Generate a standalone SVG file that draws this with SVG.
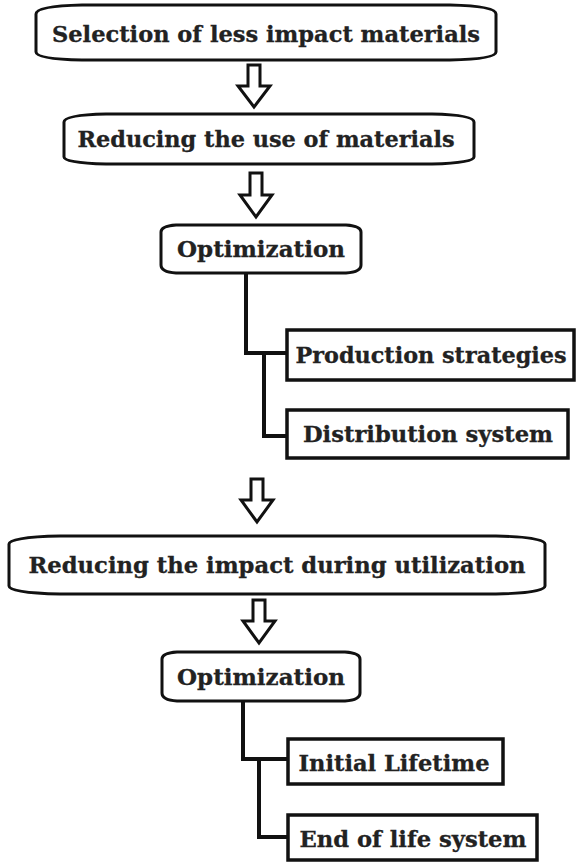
<svg xmlns="http://www.w3.org/2000/svg" width="576" height="864" viewBox="0 0 576 864">
<style>
.box{fill:#fff;stroke:#111;stroke-width:3}
.rect{fill:#fff;stroke:#111;stroke-width:3.5}
.arr{fill:#fff;stroke:#111;stroke-width:3;stroke-linejoin:miter}
.con{fill:none;stroke:#111;stroke-width:4}
text{font-family:"DejaVu Serif","Liberation Serif",serif;font-weight:bold;font-size:22px;fill:#222;stroke:#222;stroke-width:0.3}
</style>
<rect width="576" height="864" fill="#fff"/>
<g id="connectors">
<path class="arr" d="M248,65 H260 V86 H270 L254,107 L238,86 H248 Z"/>
<path class="arr" d="M250,173 H262 V195 H272 L256,217 L240,195 H250 Z"/>
<path class="con" d="M246,273 V353 H287 M264,353 V436 H287"/>
<path class="arr" d="M251,479 H263 V500 H273 L257,522 L241,500 H251 Z"/>
<path class="arr" d="M253,600 H265 V621 H275 L259,643 L243,621 H253 Z"/>
<path class="con" d="M243,701 V759 H288 M259,759 V837 H288"/>
</g>
<g id="n1">
<path class="box" d="M82,5 H450 Q496,6 496,14 V52 Q496,59 450,60 H82 Q36,59 36,52 V14 Q36,6 82,5 Z"/>
<text x="266" y="42" text-anchor="middle" textLength="428" lengthAdjust="spacingAndGlyphs">Selection of less impact materials</text>
</g>
<g id="n2">
<path class="box" d="M106,114 H432 Q474,115 474,122 V157 Q474,163 432,164 H106 Q64,163 64,157 V122 Q64,115 106,114 Z"/>
<text x="266" y="147" text-anchor="middle" textLength="377" lengthAdjust="spacingAndGlyphs">Reducing the use of materials</text>
</g>
<g id="n3">
<path class="box" d="M176,225 H346 Q361,226 361,232 V265 Q361,272 346,273 H176 Q161,272 161,265 V232 Q161,226 176,225 Z"/>
<text x="261" y="257" text-anchor="middle" textLength="168" lengthAdjust="spacingAndGlyphs">Optimization</text>
</g>
<g id="n4">
<rect class="rect" x="287" y="330" width="287" height="50"/>
<text x="431" y="363" text-anchor="middle" textLength="271" lengthAdjust="spacingAndGlyphs">Production strategies</text>
</g>
<g id="n5">
<rect class="rect" x="287" y="410" width="281" height="48"/>
<text x="428" y="442" text-anchor="middle" textLength="250" lengthAdjust="spacingAndGlyphs">Distribution system</text>
</g>
<g id="n6">
<path class="box" d="M60,536 H496 Q545,537 545,544 V586 Q545,593 496,594 H60 Q9,593 9,586 V544 Q9,537 60,536 Z"/>
<text x="277" y="573" text-anchor="middle" textLength="497" lengthAdjust="spacingAndGlyphs">Reducing the impact during utilization</text>
</g>
<g id="n7">
<path class="box" d="M177,652 H345 Q360,653 360,659 V693 Q360,700 345,701 H177 Q162,700 162,693 V659 Q162,653 177,652 Z"/>
<text x="261" y="685" text-anchor="middle" textLength="168" lengthAdjust="spacingAndGlyphs">Optimization</text>
</g>
<g id="n8">
<rect class="rect" x="288" y="739" width="215" height="45"/>
<text x="394" y="771" text-anchor="middle" textLength="191" lengthAdjust="spacingAndGlyphs">Initial Lifetime</text>
</g>
<g id="n9">
<rect class="rect" x="288" y="815" width="249" height="45"/>
<text x="413" y="847" text-anchor="middle" textLength="227" lengthAdjust="spacingAndGlyphs">End of life system</text>
</g>
</svg>
